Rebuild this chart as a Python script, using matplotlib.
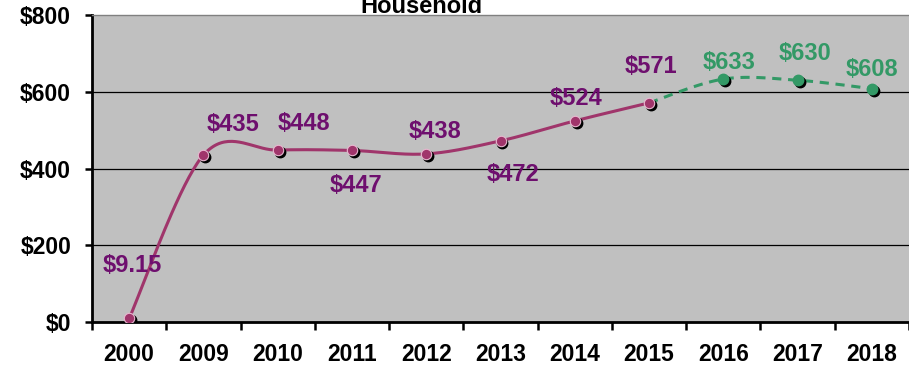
import numpy as np
import matplotlib
matplotlib.use("Agg")
import matplotlib.pyplot as plt
import matplotlib.transforms as mtransforms

plt.rcParams['font.family'] = ['Liberation Sans', 'DejaVu Sans']

years = ["2000", "2009", "2010", "2011", "2012", "2013", "2014", "2015", "2016", "2017", "2018"]
actual = [9.15, 435, 448, 447, 438, 472, 524, 571]
projected = [571, 633, 630, 608]
actual_labels = ["$9.15", "$435", "$448", "$447", "$438", "$472", "$524", "$571"]
projected_labels = ["$633", "$630", "$608"]
yticks = [0, 200, 400, 600, 800]

# label offsets in points (dx, dy) relative to each marker
actual_offsets = [(2, 38), (21, 22), (19, 19), (3, -25), (6, 16), (9, -24), (1, 16), (1.5, 26)]
projected_offsets = [(4, 12), (5, 19), (0, 14)]

PURPLE_LINE = "#A0356B"
PURPLE_TEXT = "#6E0F6E"
GREEN = "#339966"


def catmull_rom(xs, ys, n=40):
    xs = np.asarray(xs, float)
    ys = np.asarray(ys, float)
    px = np.concatenate([[xs[0]], xs, [xs[-1]]])
    py = np.concatenate([[ys[0]], ys, [ys[-1]]])
    outx, outy = [], []
    for i in range(1, len(px) - 2):
        p0, p1, p2, p3 = (np.array([px[j], py[j]]) for j in (i - 1, i, i + 1, i + 2))
        c1 = p1 + (p2 - p0) / 6.0
        c2 = p2 - (p3 - p1) / 6.0
        t = np.linspace(0, 1, n)[:, None]
        b = ((1 - t) ** 3) * p1 + 3 * ((1 - t) ** 2) * t * c1 + 3 * (1 - t) * t ** 2 * c2 + t ** 3 * p2
        outx.extend(b[:, 0])
        outy.extend(b[:, 1])
    return np.array(outx), np.array(outy)


fig = plt.figure(figsize=(9.09, 3.65), dpi=100)
ax = fig.add_axes([92 / 909, 1 - 322 / 365, 817 / 909, 307 / 365])
ax.set_facecolor("#C0C0C0")

x_act = np.arange(len(actual))
x_proj = np.arange(len(actual) - 1, len(actual) - 1 + len(projected))

ax.set_xlim(-0.5, len(years) - 0.5)
ax.set_ylim(0, 800)

for v in yticks[1:-1]:
    ax.axhline(v, color="black", lw=0.9, zorder=1)

sx, sy = catmull_rom(x_act, actual)
ax.plot(sx, sy, color=PURPLE_LINE, lw=2.2, zorder=3, solid_capstyle="round")
gx, gy = catmull_rom(x_proj, projected)
ax.plot(gx, gy, color=GREEN, lw=2.2, ls=(0, (3, 2.2)), zorder=3)

shadow = mtransforms.offset_copy(ax.transData, fig=fig, x=1.4, y=-1.4, units="points")
ax.plot(x_act, actual, "o", ms=7.5, color="black", transform=shadow, zorder=4)
ax.plot(x_proj[1:], projected[1:], "o", ms=7.5, color="black", transform=shadow, zorder=4)
ax.plot(x_act, actual, "o", ms=7.5, color=PURPLE_LINE, mec="#E8B8D0", mew=0.8, zorder=5)
ax.plot(x_proj[1:], projected[1:], "o", ms=7.5, color=GREEN, mec=GREEN, zorder=5)

for xi, v, lab, (dx, dy) in zip(x_act, actual, actual_labels, actual_offsets):
    ax.annotate(lab, (xi, v), xytext=(dx, dy), textcoords="offset points",
                ha="center", va="center", color=PURPLE_TEXT, fontsize=17, fontweight="bold", zorder=6)
for xi, v, lab, (dx, dy) in zip(x_proj[1:], projected[1:], projected_labels, projected_offsets):
    ax.annotate(lab, (xi, v), xytext=(dx, dy), textcoords="offset points",
                ha="center", va="center", color=GREEN, fontsize=17, fontweight="bold", zorder=6)

ax.set_yticks(yticks)
ax.set_yticklabels([f"${v}" for v in yticks], fontsize=16.5, fontweight="bold")
ax.set_xticks(np.arange(len(years)))
ax.set_xticklabels(years, fontsize=16.5, fontweight="bold")
ax.tick_params(axis="x", length=0, pad=15)
ax.set_xticks(np.arange(len(years) + 1) - 0.5, minor=True)
ax.tick_params(axis="x", which="minor", length=6, width=1.8, direction="out")
ax.tick_params(axis="y", length=5, width=1.8, direction="out", pad=10)

for s in ("left", "bottom"):
    ax.spines[s].set_linewidth(2)
    ax.spines[s].set_color("black")
ax.spines["top"].set_color("#808080")
ax.spines["top"].set_linewidth(1)
ax.spines["right"].set_visible(False)

fig.text(421 / 909, 1 - 13 / 365, "Household", ha="center", va="baseline",
         fontsize=17, fontweight="bold")

fig.savefig("out.png", dpi=100)
